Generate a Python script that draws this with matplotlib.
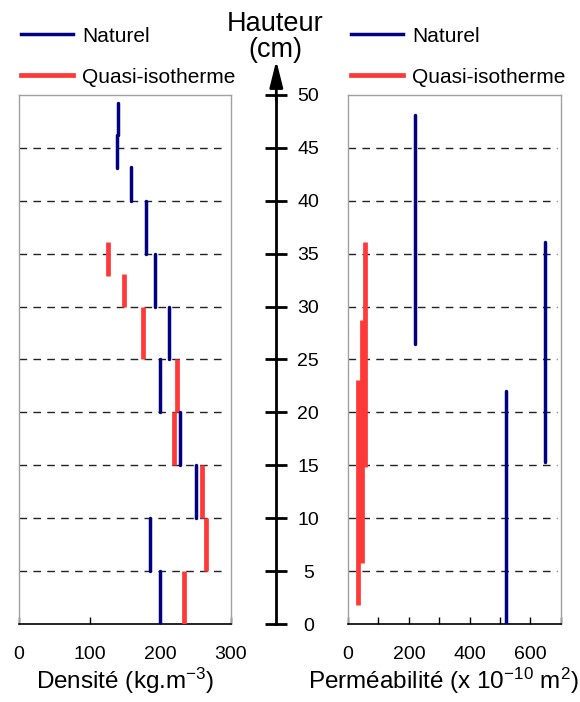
import matplotlib.pyplot as plt
from matplotlib.lines import Line2D

plt.rcParams['font.family'] = ['Liberation Sans', 'DejaVu Sans']
plt.rcParams['mathtext.fontset'] = 'custom'
plt.rcParams['mathtext.rm'] = 'Liberation Sans'
plt.rcParams['mathtext.it'] = 'Liberation Sans:italic'

# hauteurs (cm)
heights = [0, 5, 10, 15, 20, 25, 30, 35, 40, 45, 50]
grid_levels = [5, 10, 15, 20, 25, 30, 35, 40, 45]

# densité - naturel
dens_nat = [140, 138, 159, 180, 193, 212, 200, 228, 250, 185, 199]
dens_nat_bot = [46.2, 43.1, 40, 35, 30, 25, 20, 15, 10, 5, 0]
dens_nat_top = [49.2, 46.2, 43.2, 40, 35, 30, 25, 20, 15, 10, 5]

# densité - quasi-isotherme
dens_qi = [126, 149, 175, 224, 220, 259, 264, 234]
dens_qi_bot = [32.9, 30, 25, 20, 15, 10, 5, 0]
dens_qi_top = [36.1, 33.1, 30, 25, 20, 15, 10, 5]

# perméabilité - naturel
perm_nat = [219, 647, 521]
perm_nat_bot = [26.5, 15.3, 0]
perm_nat_top = [48.1, 36.1, 22]

# perméabilité - quasi-isotherme
perm_qi = [56, 47, 34]
perm_qi_bot = [14.8, 5.8, 1.8]
perm_qi_top = [36.1, 28.7, 23.1]

dens_ticks = [0, 100, 200, 300]
perm_ticks = [0, 100, 200, 300, 400, 500, 600, 700]
perm_labels = ['0', '', '200', '', '400', '', '600', '']

BLUE = '#000080'
RED = '#ff3838'

fig = plt.figure(figsize=(5.8, 7.02), dpi=100)
ax1 = fig.add_axes([0.0328, 0.1111, 0.3655, 0.7536])
ax2 = fig.add_axes([0.600, 0.1111, 0.367, 0.7536])
axc = fig.add_axes([0.4759, 0.1111, 0.0005, 0.7536])


def style_panel(ax, xmax, ticks, labels, xlabel, xlab_pos):
    ax.set_xlim(0, xmax)
    ax.set_ylim(0, 50)
    for g in grid_levels:
        ax.axhline(g, xmin=0.0, xmax=0.98, color='#222222', lw=1.0,
                   linestyle=(0, (5.5, 4.5)), zorder=1)
    for s in ['left', 'top', 'right']:
        ax.spines[s].set_color('#a0a0a0')
        ax.spines[s].set_linewidth(1.0)
    ax.spines['bottom'].set_linewidth(1.2)
    ax.set_yticks([])
    ax.set_xticks(ticks)
    ax.set_xticklabels(labels)
    ax.tick_params(axis='x', direction='in', length=5, width=1,
                   labelsize=14, pad=16)
    ax.set_xlabel(xlabel, fontsize=17.5, labelpad=2, x=xlab_pos, ha='center')


style_panel(ax1, 300, dens_ticks, [str(t) for t in dens_ticks],
            'Densité (kg.m$^{-3}$)', 0.5)
style_panel(ax2, 700, perm_ticks, perm_labels,
            'Perméabilité (x 10$^{-10}$ m$^{2}$)', 0.45)

for ax, xn, bn, tn, xq, bq, tq in [
        (ax1, dens_nat, dens_nat_bot, dens_nat_top, dens_qi, dens_qi_bot, dens_qi_top),
        (ax2, perm_nat, perm_nat_bot, perm_nat_top, perm_qi, perm_qi_bot, perm_qi_top)]:
    lq = ax.vlines(xq, bq, tq, color=RED, lw=3.4, zorder=3)
    lq.set_capstyle('butt')
    ln = ax.vlines(xn, bn, tn, color=BLUE, lw=2.5, zorder=4)
    ln.set_capstyle('round')

# axe central des hauteurs
axc.set_ylim(0, 50)
axc.set_xticks([])
for s in ['left', 'top', 'bottom']:
    axc.spines[s].set_visible(False)
axc.spines['right'].set_linewidth(2)
axc.yaxis.tick_right()
axc.set_yticks(heights)
axc.set_yticklabels([str(h) for h in heights], ha='center')
axc.tick_params(axis='y', direction='inout', length=16, width=2,
                labelsize=14, pad=15)
axc.annotate('', xy=(1, 1.065), xytext=(1, 0.99), xycoords='axes fraction',
             arrowprops=dict(arrowstyle='-|>,head_length=1.6,head_width=0.4',
                             color='black', lw=2, shrinkA=0, shrinkB=0))
fig.text(0.474, 0.985, 'Hauteur\n(cm)', ha='center', va='top', fontsize=19.5,
         linespacing=1.0)

handles = [Line2D([], [], color=BLUE, lw=2.5),
           Line2D([], [], color=RED, lw=3.4)]
names = ['Naturel', 'Quasi-isotherme']
for x0 in [0.036, 0.605]:
    fig.legend(handles, names, loc='upper left', bbox_to_anchor=(x0, 0.962),
               frameon=False, fontsize=15, handlelength=2.5,
               handletextpad=0.45, labelspacing=1.05, borderpad=0,
               borderaxespad=0)

fig.savefig('out.png', dpi=100)
